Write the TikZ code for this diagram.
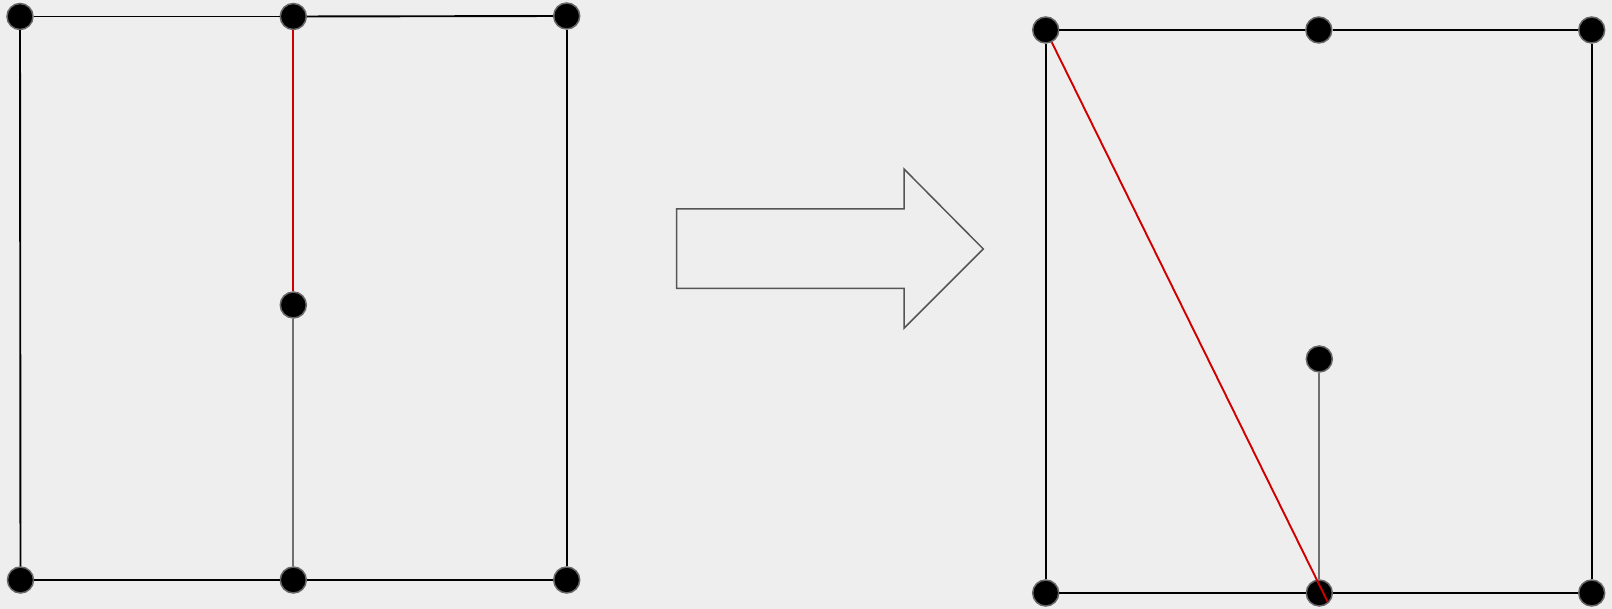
\documentclass[tikz,border=0pt]{standalone}
\usetikzlibrary{calc}
\definecolor{bg}{HTML}{EEEEEE}
\definecolor{nodeborder}{HTML}{666666}
\definecolor{midgray}{HTML}{707070}
\definecolor{redline}{HTML}{D00000}
\definecolor{arrowgray}{HTML}{555555}
\tikzset{
  vtx/.style={circle, fill=black, draw=nodeborder, line width=1.5pt, minimum size=26pt, inner sep=0pt},
  blackedge/.style={draw=black, line width=1.9pt},
  grayedge/.style={draw=midgray, line width=1.9pt},
  rededge/.style={draw=redline, line width=1.9pt},
  bigarrow/.style={draw=arrowgray, line width=1.5pt, line join=miter}
}
\begin{document}
\begin{tikzpicture}[x=1pt,y=-1pt]
\fill[bg] (0,0) rectangle (1612,609);
\useasboundingbox (0,0) rectangle (1612,609);
% left graph
\node[vtx] (L1) at (20,16.5) {};
\node[vtx] (L2) at (293.3,16.5) {};
\node[vtx] (L3) at (566.7,16) {};
\node[vtx] (Lm) at (293.3,305) {};
\node[vtx] (L4) at (20.5,580) {};
\node[vtx] (L5) at (293.3,580) {};
\node[vtx] (L6) at (566.7,580) {};
\draw[blackedge] (L1) -- (L2);
\draw[blackedge] (L2) -- (L3);
\draw[blackedge] (L1) -- (L4);
\draw[blackedge] (L3) -- (L6);
\draw[blackedge] (L4) -- (L5);
\draw[blackedge] (L5) -- (L6);
\draw[rededge] (L2) -- (Lm);
\draw[grayedge] (Lm) -- (L5);
% arrow
\draw[bigarrow] (676.7,209) -- (904,209) -- (904,169) -- (983.3,249) -- (904,328.3) -- (904,288.3) -- (676.7,288.3) -- cycle;
% right graph
\node[vtx] (R1) at (1045.7,30) {};
\node[vtx] (R2) at (1318.8,30) {};
\node[vtx] (R3) at (1591.7,30) {};
\node[vtx] (Rm) at (1319.3,359) {};
\node[vtx] (R4) at (1045.7,593) {};
\node[vtx] (R5) at (1319.3,593) {};
\node[vtx] (R6) at (1591.7,593) {};
\coordinate (rend) at (1327.5,601.5);
\draw[blackedge] (R1) -- (R2);
\draw[blackedge] (R2) -- (R3);
\draw[blackedge] (R1) -- (R4);
\draw[blackedge] (R3) -- (R6);
\draw[blackedge] (R4) -- (R5);
\draw[blackedge] (R5) -- (R6);
\draw[grayedge] (Rm) -- (R5);
\draw[rededge] (R1) -- (rend);
\end{tikzpicture}
\end{document}
